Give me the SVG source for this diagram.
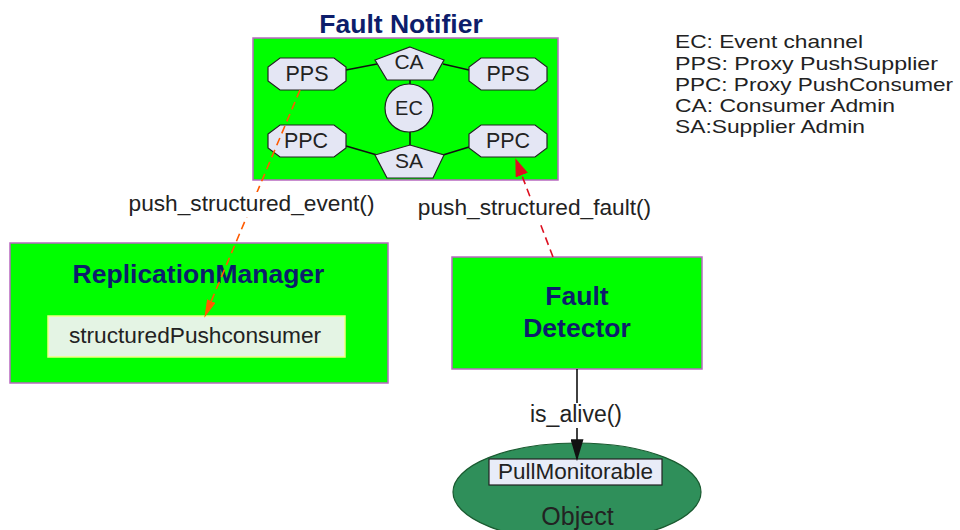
<svg xmlns="http://www.w3.org/2000/svg" width="960" height="530" viewBox="0 0 960 530">
<defs>
<style>
.box{fill:#00ff00;stroke:#b868c0;stroke-width:1.5}
.title{font-family:"Liberation Sans",Arial,sans-serif;font-weight:bold;fill:#0d1d6b;text-anchor:middle}
.t{font-family:"Liberation Sans",Arial,sans-serif;fill:#222;text-anchor:middle}
.leg{font-family:"Liberation Sans",Arial,sans-serif;fill:#222;font-size:19px}
.shape{fill:#e4e6f4;stroke:#222;stroke-width:1.2}
.link{stroke:#111;stroke-width:1.5;fill:none}
</style>
<marker id="aOr" viewBox="0 0 10 10" refX="9" refY="5" markerWidth="18" markerHeight="9" orient="auto" markerUnits="userSpaceOnUse" preserveAspectRatio="none">
<path d="M0,0 L10,5 L0,10 z" fill="#ff5a00"/>
</marker>
<marker id="aRd" viewBox="0 0 10 10" refX="9" refY="5" markerWidth="18" markerHeight="13" orient="auto" markerUnits="userSpaceOnUse" preserveAspectRatio="none">
<path d="M0,0 L10,5 L0,10 z" fill="#dd1020"/>
</marker>
<marker id="aBk" viewBox="0 0 10 10" refX="9" refY="5" markerWidth="22" markerHeight="13" orient="auto" markerUnits="userSpaceOnUse" preserveAspectRatio="none">
<path d="M0,0 L10,5 L0,10 z" fill="#111"/>
</marker>
</defs>
<rect width="960" height="530" fill="#ffffff"/>

<g id="fault-notifier">
<text class="title" x="401" y="33" font-size="26.5">Fault Notifier</text>
<rect class="box" x="253" y="38" width="305" height="142"/>
<g class="link">
<line x1="346" y1="70" x2="377" y2="64"/>
<line x1="443" y1="64" x2="469" y2="70"/>
<line x1="410" y1="80" x2="410" y2="85"/>
<line x1="410" y1="132" x2="410" y2="146"/>
<line x1="346" y1="146" x2="377" y2="155"/>
<line x1="443" y1="155" x2="469" y2="147"/>
</g>
<g id="pps-left"><polygon class="shape" points="280,58 334,58 346,67 346,81 334,90 280,90 268,81 268,67"/><text class="t" x="307" y="81" font-size="21.5">PPS</text></g>
<g id="pps-right"><polygon class="shape" points="481,58 535,58 547,67 547,81 535,90 481,90 469,81 469,67"/><text class="t" x="508" y="81" font-size="21.5">PPS</text></g>
<g id="ppc-left"><polygon class="shape" points="280,125 334,125 346,134 346,148 334,157 280,157 268,148 268,134"/><text class="t" x="306" y="148" font-size="21.5">PPC</text></g>
<g id="ppc-right"><polygon class="shape" points="481,125 535,125 547,134 547,148 535,157 481,157 469,148 469,134"/><text class="t" x="508" y="148" font-size="21.5">PPC</text></g>
<g id="ca"><polygon class="shape" points="410,47 444,60 433,80 387,80 375,60"/><text class="t" x="409" y="69" font-size="21">CA</text></g>
<g id="ec"><circle class="shape" cx="409" cy="108" r="24"/><text class="t" x="409" y="115" font-size="20">EC</text></g>
<g id="sa"><polygon class="shape" points="410,145 444,155 433,178 387,178 375,155"/><text class="t" x="409" y="168" font-size="21">SA</text></g>
</g>

<g id="replication-manager">
<rect class="box" x="10" y="243" width="378" height="140"/>
<text class="title" x="198.5" y="283" font-size="26.5">ReplicationManager</text>
<rect x="48" y="316" width="297" height="41" fill="#e4f4e4" stroke="#f0ff80" stroke-width="1.5"/>
<text class="t" x="195" y="343" font-size="22.7">structuredPushconsumer</text>
</g>

<g id="fault-detector">
<rect class="box" x="452" y="257" width="250" height="112"/>
<text class="title" x="577" y="305" font-size="26.5">Fault</text>
<text class="title" x="577" y="337" font-size="26.5">Detector</text>
</g>

<g id="object">
<ellipse cx="577" cy="492" rx="124" ry="49" fill="#2f8f5a" stroke="#1a5a30" stroke-width="1.2"/>
<rect x="489" y="459" width="173" height="26" fill="#e8ecf8" stroke="#222" stroke-width="1.2"/>
<text class="t" x="575.5" y="479" font-size="22.5">PullMonitorable</text>
<text class="t" x="577.5" y="525" font-size="25" fill="#0a2a10">Object</text>
</g>

<g id="connectors">
<line x1="300" y1="90" x2="205" y2="316" stroke="#ff5a00" stroke-width="1.6" stroke-dasharray="8,5" marker-end="url(#aOr)"/>
<line x1="553" y1="257" x2="516" y2="160" stroke="#dd1020" stroke-width="1.6" stroke-dasharray="8,5" marker-end="url(#aRd)"/>
<line x1="577" y1="369" x2="577" y2="459" stroke="#111" stroke-width="1.6" marker-end="url(#aBk)"/>
<rect x="126" y="192" width="251" height="25" fill="#ffffff"/>
<text class="t" x="251.5" y="211" font-size="22.7">push_structured_event()</text>
<rect x="415" y="197" width="239" height="24" fill="#ffffff"/>
<text class="t" x="534.5" y="215" font-size="22.7">push_structured_fault()</text>
<rect x="526" y="403" width="98" height="25" fill="#ffffff"/>
<text class="t" x="576" y="422" font-size="23">is_alive()</text>
</g>

<g id="legend">
<text class="leg" x="675" y="48" textLength="188" lengthAdjust="spacingAndGlyphs">EC: Event channel</text>
<text class="leg" x="675" y="70" textLength="263" lengthAdjust="spacingAndGlyphs">PPS: Proxy PushSupplier</text>
<text class="leg" x="675" y="91" textLength="278" lengthAdjust="spacingAndGlyphs">PPC: Proxy PushConsumer</text>
<text class="leg" x="675" y="112" textLength="220" lengthAdjust="spacingAndGlyphs">CA: Consumer Admin</text>
<text class="leg" x="675" y="133" textLength="190" lengthAdjust="spacingAndGlyphs">SA:Supplier Admin</text>
</g>
</svg>
